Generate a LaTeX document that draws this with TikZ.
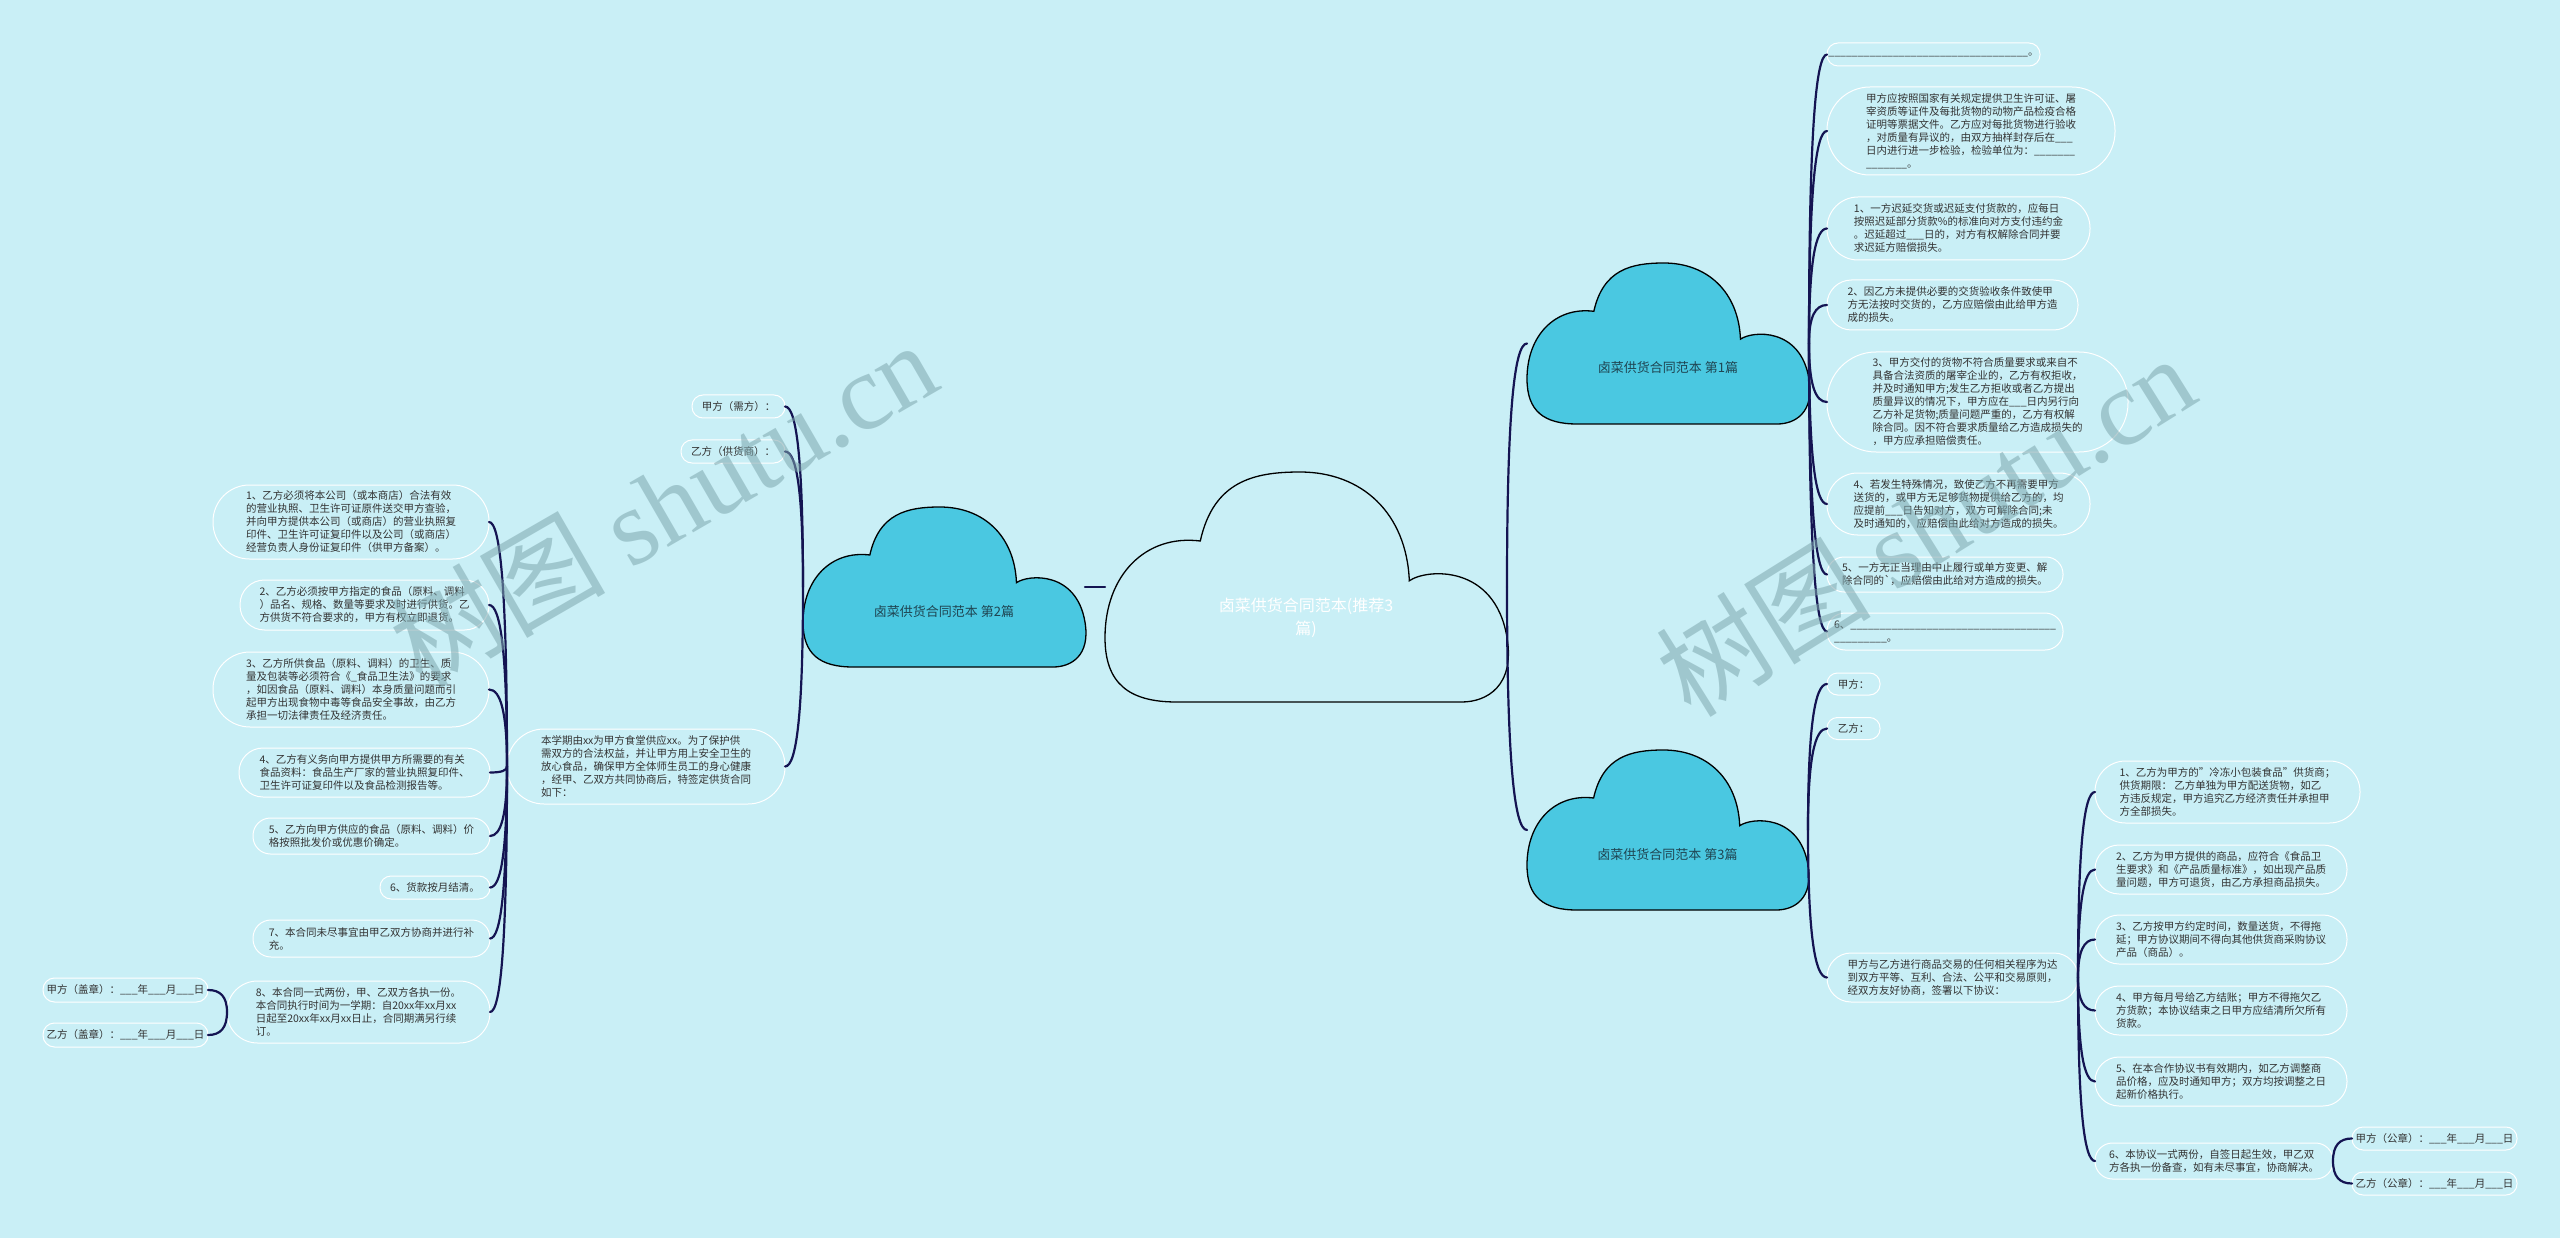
\documentclass[tikz,border=0pt]{standalone}
\usepackage{fontspec}
\setmainfont{Noto Sans CJK SC}
\newfontfamily\wmserif{Liberation Serif}
\newfontfamily\wmcjk{Noto Sans CJK SC}
\usetikzlibrary{calc}
\definecolor{bgc}{HTML}{C9EFF6}
\definecolor{cloudc}{HTML}{4AC8E1}
\definecolor{edgec}{HTML}{141452}
\definecolor{txtc}{HTML}{333333}
\definecolor{ctxt}{HTML}{1F4552}
\definecolor{wmc}{HTML}{7EA7AE}
\newcount\bcnt
\newcommand\blank[1]{\bcnt=0 \loop\ifnum\bcnt<#1 \_\advance\bcnt 1 \repeat}
\newcommand\tbfont{\fontsize{10.5}{13}\selectfont}
\newcommand\cloudshape[5]{\begin{scope}[shift={(#1,#2)},x=#3pt,y=-#4pt]
\path[#5] (0.237,0.30) .. controls (0.27,0.04) and (0.37,0.0) .. (0.485,0.0)
 .. controls (0.64,0.0) and (0.75,0.18) .. (0.757,0.473)
 .. controls (0.80,0.42) and (0.97,0.40) .. (1.0,0.72)
 .. controls (1.02,0.93) and (0.95,1.0) .. (0.887,1.0) -- (0.178,1.0)
 .. controls (0.06,1.0) and (0.0,0.92) .. (0.0,0.72)
 .. controls (0.0,0.45) and (0.10,0.27) .. (0.237,0.30) -- cycle;
\end{scope}}
\newcommand\mme[2]{\draw[edgeline] let \p1=(#1), \p2=(#2) in (\p1) .. controls (\x1,{\y1+0.7*(\y2-\y1)}) and ({\x1+0.35*(\x2-\x1)},\y2) .. (\p2);}
\tikzset{
 edgeline/.style={draw=edgec, line width=2.2pt, line cap=round},
 tb/.style={draw=white, line width=1pt, text=txtc, align=left, font=\tbfont, inner sep=0pt, outer sep=0pt, anchor=west},
 tbw/.style={tb, anchor=east},
 cloudbox/.style={inner sep=0pt, outer sep=0pt},
 cloudtxt/.style={text=ctxt, font=\fontsize{13}{16}\selectfont, inner sep=0pt},
 wm/.style={text=wmc, opacity=0.55, font=\fontsize{108}{118}\selectfont, inner sep=0pt}
}
\begin{document}
\begin{tikzpicture}[x=1pt,y=-1pt]
\path[fill=bgc, use as bounding box] (0,0) rectangle (2560,1238);

% cloud shapes
\cloudshape{1105}{472}{402}{230}{fill=bgc, draw=black, line width=1.3pt}
\cloudshape{803}{507}{282}{160}{fill=cloudc, draw=black, line width=1.3pt}
\cloudshape{1527}{263}{282}{161}{fill=cloudc, draw=black, line width=1.3pt}
\cloudshape{1527}{750}{281}{160}{fill=cloudc, draw=black, line width=1.3pt}
\node[cloudbox, minimum width=402pt, minimum height=230pt] (k0) at (1306,587) {};
\node[cloudbox, minimum width=282pt, minimum height=160pt] (k2) at (944,587) {};
\node[cloudbox, minimum width=282pt, minimum height=161pt] (k1) at (1668,343.5) {};
\node[cloudbox, minimum width=281pt, minimum height=160pt] (k3) at (1667.5,830) {};
\node[text=white, font=\fontsize{16}{23}\selectfont, align=center, inner sep=0pt] (t0) at (1306,618) {卤菜供货合同范本(推荐3\\篇)};
\node[cloudtxt] (t2) at (944,612) {卤菜供货合同范本 第2篇};
\node[cloudtxt] (t1) at (1668,368) {卤菜供货合同范本 第1篇};
\node[cloudtxt] (t3) at (1667.5,855) {卤菜供货合同范本 第3篇};

% right top (第1篇) children
\node[tb, minimum width=213pt, minimum height=23pt, rounded corners=11pt] (a1) at (1827,54.5) {\blank{34}。};
\node[tb, minimum width=288pt, minimum height=88pt, rounded corners=43pt] (a2) at (1827,131) {甲方应按照国家有关规定提供卫生许可证、屠\\宰资质等证件及每批货物的动物产品检疫合格\\证明等票据文件。乙方应对每批货物进行验收\\，对质量有异议的，由双方抽样封存后在\blank{3}\\日内进行进一步检验，检验单位为：\blank{7}\\\blank{7}。};
\node[tb, minimum width=263pt, minimum height=63pt, rounded corners=31pt] (a3) at (1827,228.5) {1、一方迟延交货或迟延支付货款的，应每日\\按照迟延部分货款\%的标准向对方支付违约金\\。迟延超过\blank{3}日的，对方有权解除合同并要\\求迟延方赔偿损失。};
\node[tb, minimum width=251pt, minimum height=50pt, rounded corners=24.5pt] (a4) at (1827,305) {2、因乙方未提供必要的交货验收条件致使甲\\方无法按时交货的，乙方应赔偿由此给甲方造\\成的损失。};
\node[tb, minimum width=301pt, minimum height=100pt, rounded corners=49pt] (a5) at (1827,402) {3、甲方交付的货物不符合质量要求或来自不\\具备合法资质的屠宰企业的，乙方有权拒收，\\并及时通知甲方;发生乙方拒收或者乙方提出\\质量异议的情况下，甲方应在\blank{3}日内另行向\\乙方补足货物;质量问题严重的，乙方有权解\\除合同。因不符合要求质量给乙方造成损失的\\，甲方应承担赔偿责任。};
\node[tb, minimum width=263pt, minimum height=62pt, rounded corners=30.5pt] (a6) at (1827,504) {4、若发生特殊情况，致使乙方不再需要甲方\\送货的，或甲方无足够货物提供给乙方的，均\\应提前\blank{3}日告知对方，双方可解除合同;未\\及时通知的，应赔偿由此给对方造成的损失。};
\node[tb, minimum width=236pt, minimum height=35pt, rounded corners=17pt] (a7) at (1827,574.5) {5、一方无正当理由中止履行或单方变更、解\\除合同的\textasciigrave，应赔偿由此给对方造成的损失。};
\node[tb, minimum width=236pt, minimum height=37pt, rounded corners=18pt] (a8) at (1827,631.5) {6、\blank{35}\\\blank{9}。};

% right bottom (第3篇) children
\node[tb, minimum width=53pt, minimum height=22pt, rounded corners=10.5pt] (b1) at (1827,684) {甲方：};
\node[tb, minimum width=53pt, minimum height=22pt, rounded corners=10.5pt] (b2) at (1827,728.5) {乙方：};
\node[tb, minimum width=251pt, minimum height=49pt, rounded corners=24pt] (b3) at (1827,977.5) {甲方与乙方进行商品交易的任何相关程序为达\\到双方平等、互利、合法、公平和交易原则，\\经双方友好协商，签署以下协议：};
\node[tb, minimum width=265pt, minimum height=62pt, rounded corners=30.5pt] (c1) at (2095,792) {1、乙方为甲方的"冷冻小包装食品"供货商；\\供货期限： 乙方单独为甲方配送货物，如乙\\方违反规定，甲方追究乙方经济责任并承担甲\\方全部损失。};
\node[tb, minimum width=252pt, minimum height=49pt, rounded corners=24pt] (c2) at (2095,869.5) {2、乙方为甲方提供的商品，应符合《食品卫\\生要求》和《产品质量标准》，如出现产品质\\量问题，甲方可退货，由乙方承担商品损失。};
\node[tb, minimum width=252pt, minimum height=49pt, rounded corners=24pt] (c3) at (2095,939.5) {3、乙方按甲方约定时间，数量送货，不得拖\\延；甲方协议期间不得向其他供货商采购协议\\产品（商品）。};
\node[tb, minimum width=252pt, minimum height=49pt, rounded corners=24pt] (c4) at (2095,1010.5) {4、甲方每月号给乙方结账；甲方不得拖欠乙\\方货款；本协议结束之日甲方应结清所欠所有\\货款。};
\node[tb, minimum width=252pt, minimum height=49pt, rounded corners=24pt] (c5) at (2095,1081.5) {5、在本合作协议书有效期内，如乙方调整商\\品价格，应及时通知甲方；双方均按调整之日\\起新价格执行。};
\node[tb, minimum width=238pt, minimum height=36pt, rounded corners=17.5pt] (c6) at (2095,1161) {6、本协议一式两份，自签日起生效，甲乙双\\方各执一份备查，如有未尽事宜，协商解决。};
\node[tb, minimum width=165pt, minimum height=23pt, rounded corners=11pt] (d1) at (2352,1138.5) {甲方（公章）：\blank{3}年\blank{3}月\blank{3}日};
\node[tb, minimum width=165pt, minimum height=23pt, rounded corners=11pt] (d2) at (2352,1183.5) {乙方（公章）：\blank{3}年\blank{3}月\blank{3}日};

% left (第2篇) children
\node[tbw, minimum width=93pt, minimum height=23pt, rounded corners=11pt] (p1) at (785,406.5) {甲方（需方）：};
\node[tbw, minimum width=104pt, minimum height=23pt, rounded corners=11pt] (p2) at (785,451.5) {乙方（供货商）：};
\node[tbw, minimum width=278pt, minimum height=75pt, rounded corners=37pt] (p3) at (785,766.5) {本学期由xx为甲方食堂供应xx。为了保护供\\需双方的合法权益，并让甲方用上安全卫生的\\放心食品，确保甲方全体师生员工的身心健康\\，经甲、乙双方共同协商后，特签定供货合同\\如下：};
\node[tbw, minimum width=276pt, minimum height=74pt, rounded corners=36.5pt] (f1) at (489,522) {1、乙方必须将本公司（或本商店）合法有效\\的营业执照、卫生许可证原件送交甲方查验，\\并向甲方提供本公司（或商店）的营业执照复\\印件、卫生许可证复印件以及公司（或商店）\\经营负责人身份证复印件（供甲方备案）。};
\node[tbw, minimum width=249pt, minimum height=50pt, rounded corners=24.5pt] (f2) at (489,605) {2、乙方必须按甲方指定的食品（原料、调料\\）品名、规格、数量等要求及时进行供货。乙\\方供货不符合要求的，甲方有权立即退货。};
\node[tbw, minimum width=276pt, minimum height=75pt, rounded corners=37pt] (f3) at (489,689.5) {3、乙方所供食品（原料、调料）的卫生、质\\量及包装等必须符合《\_食品卫生法》的要求\\，如因食品（原料、调料）本身质量问题而引\\起甲方出现食物中毒等食品安全事故，由乙方\\承担一切法律责任及经济责任。};
\node[tbw, minimum width=251pt, minimum height=49pt, rounded corners=24pt] (f4) at (490,772.5) {4、乙方有义务向甲方提供甲方所需要的有关\\食品资料：食品生产厂家的营业执照复印件、\\卫生许可证复印件以及食品检测报告等。};
\node[tbw, minimum width=237pt, minimum height=36pt, rounded corners=17.5pt] (f5) at (490,836) {5、乙方向甲方供应的食品（原料、调料）价\\格按照批发价或优惠价确定。};
\node[tbw, minimum width=110pt, minimum height=23pt, rounded corners=11pt] (f6) at (490,887.5) {6、货款按月结清。};
\node[tbw, minimum width=237pt, minimum height=37pt, rounded corners=18pt] (f7) at (490,938.5) {7、本合同未尽事宜由甲乙双方协商并进行补\\充。};
\node[tbw, minimum width=263pt, minimum height=62pt, rounded corners=30.5pt] (f8) at (490,1012) {8、本合同一式两份，甲、乙双方各执一份。\\本合同执行时间为一学期：自20xx年xx月xx\\日起至20xx年xx月xx日止，合同期满另行续\\订。};
\node[tbw, minimum width=165pt, minimum height=24pt, rounded corners=11.5pt] (g1) at (208,990) {甲方（盖章）：\blank{3}年\blank{3}月\blank{3}日};
\node[tbw, minimum width=165pt, minimum height=24pt, rounded corners=11.5pt] (g2) at (208,1035) {乙方（盖章）：\blank{3}年\blank{3}月\blank{3}日};

% connectors
\draw[edgeline] (k0.west) -- (k2.east);
\mme{k0.east}{k1.west}
\mme{k0.east}{k3.west}
\foreach \q in {a1,a2,a3,a4,a5,a6,a7,a8} {\mme{k1.east}{\q.west}}
\foreach \q in {b1,b2,b3} {\mme{k3.east}{\q.west}}
\foreach \q in {c1,c2,c3,c4,c5,c6} {\mme{b3.east}{\q.west}}
\foreach \q in {d1,d2} {\mme{c6.east}{\q.west}}
\foreach \q in {p1,p2,p3} {\mme{k2.west}{\q.east}}
\foreach \q in {f1,f2,f3,f4,f5,f6,f7,f8} {\mme{p3.west}{\q.east}}
\foreach \q in {g1,g2} {\mme{f8.west}{\q.east}}

% watermarks
\node[wm, rotate=30] (wm1) at (663,503) {\wmcjk 树图 \wmserif shutu.cn};
\node[wm, rotate=32] (wm2) at (1925,525) {\wmcjk 树图 \wmserif shutu.cn};
\end{tikzpicture}
\end{document}
